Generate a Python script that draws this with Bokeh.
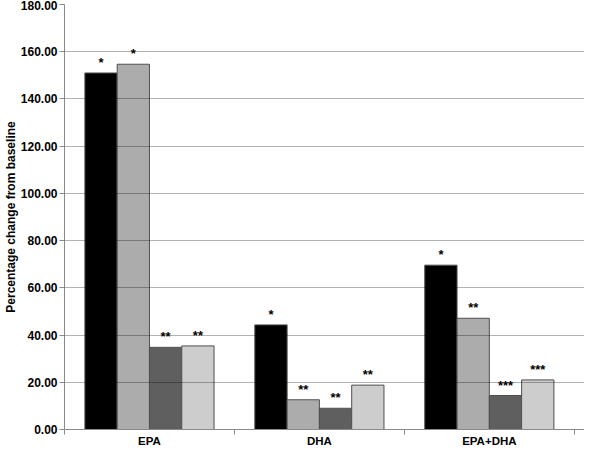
import numpy as np
from bokeh.plotting import figure
from bokeh.models import ColumnDataSource, FixedTicker, NumeralTickFormatter, Range1d
from bokeh.core.properties import value
from bokeh.embed import file_html
from bokeh.resources import INLINE

# ---- data ----
categories = ["EPA", "DHA", "EPA+DHA"]
series_1 = [151.0, 44.3, 69.6]
series_2 = [154.7, 12.6, 47.1]
series_3 = [34.8, 9.0, 14.4]
series_4 = [35.4, 18.8, 21.0]
sig_1 = ["*", "*", "*"]
sig_2 = ["*", "**", "**"]
sig_3 = ["**", "**", "***"]
sig_4 = ["**", "**", "***"]
y_ticks = [0, 20, 40, 60, 80, 100, 120, 140, 160, 180]

series = [series_1, series_2, series_3, series_4]
sigs = [sig_1, sig_2, sig_3, sig_4]
colors = ["#000000", "#acacac", "#5f5f5f", "#cdcdcd"]
offsets = [-0.285, -0.095, 0.095, 0.285]
bar_w = 0.19

FONT = "Liberation Sans"

p = figure(width=584, height=449, output_backend="svg", toolbar_location=None,
           x_range=Range1d(0, 3.06), y_range=Range1d(0, 180),
           min_border_left=40, min_border_right=0, min_border_top=4, min_border_bottom=0)
p.outline_line_color = None
p.background_fill_color = "white"
p.border_fill_color = "white"

centers = np.arange(len(categories)) + 0.5
for vals, sg, col, off in zip(series, sigs, colors, offsets):
    src = ColumnDataSource(dict(x=centers + off, top=vals, lab=sg))
    p.vbar(x="x", top="top", bottom=0, width=bar_w, source=src,
           fill_color=col, line_color="#505050", line_width=1)
    p.text(x="x", y="top", text="lab", source=src, text_align="center",
           text_baseline="bottom", y_offset=-3, text_font=value(FONT),
           text_font_size="13px", text_font_style="bold", text_color="black")

# y axis
p.yaxis.ticker = FixedTicker(ticks=y_ticks, minor_ticks=[])
p.yaxis.formatter = NumeralTickFormatter(format="0.00")
p.yaxis.axis_label = "Percentage change from baseline"
p.yaxis.axis_label_text_font = FONT
p.yaxis.axis_label_text_font_size = "12px"
p.yaxis.axis_label_text_font_style = "bold"
p.yaxis.axis_label_text_color = "black"
p.yaxis.axis_label_standoff = 0
p.yaxis.major_label_text_font = FONT
p.yaxis.major_label_text_font_size = "12px"
p.yaxis.major_label_text_font_style = "bold"
p.yaxis.major_label_text_color = "black"
p.yaxis.major_label_standoff = 2
p.yaxis.axis_line_color = "#8a8a8a"
p.yaxis.major_tick_line_color = "#8a8a8a"
p.yaxis.major_tick_in = 0
p.yaxis.major_tick_out = 5

# x axis
p.xaxis.ticker = FixedTicker(ticks=list(centers), minor_ticks=list(range(len(categories) + 1)))
p.xaxis.major_label_overrides = {float(c): name for c, name in zip(centers, categories)}
p.xaxis.major_label_text_font = FONT
p.xaxis.major_label_text_font_size = "11.5px"
p.xaxis.major_label_text_font_style = "bold"
p.xaxis.major_label_text_color = "black"
p.xaxis.major_label_standoff = 0
p.xaxis.major_tick_line_color = None
p.xaxis.major_tick_out = 0
p.xaxis.major_tick_in = 0
p.xaxis.minor_tick_line_color = "#8a8a8a"
p.xaxis.minor_tick_in = 0
p.xaxis.minor_tick_out = 5
p.xaxis.axis_line_color = "#8a8a8a"

# grid
p.xgrid.grid_line_color = None
p.ygrid.ticker = FixedTicker(ticks=y_ticks)
p.ygrid.grid_line_color = "black"
p.ygrid.grid_line_alpha = 0.3
p.ygrid.level = "overlay"

open("out.html", "w").write(file_html(p, INLINE))
